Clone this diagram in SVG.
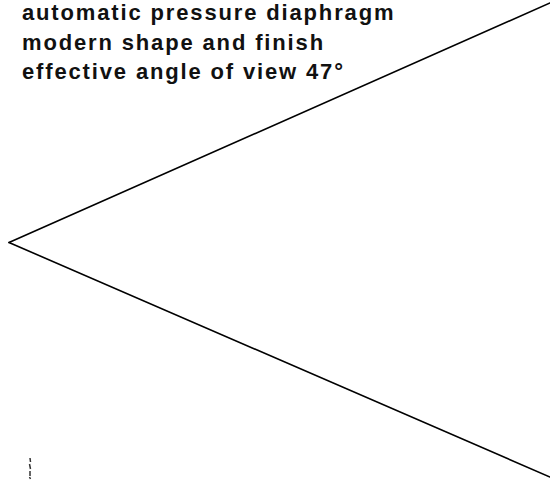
<svg xmlns="http://www.w3.org/2000/svg" width="550" height="480" viewBox="0 0 550 480">
  <style>
    .lbl { font-family: "Liberation Sans", Arial, sans-serif; font-size: 22px; font-weight: bold; fill: #111; letter-spacing: 1.85px; }
    .edge { stroke: #000; stroke-width: 1.6; fill: none; stroke-linecap: round; }
  </style>
  <rect width="550" height="480" fill="#fff"/>
  <g id="caption">
    <text class="lbl" x="22" y="20">automatic pressure diaphragm</text>
    <text class="lbl" x="22" y="50">modern shape and finish</text>
    <text class="lbl" x="22" y="79">effective angle of view 47°</text>
  </g>
  <g id="connectors">
    <line class="edge" x1="9" y1="242.5" x2="550" y2="3"/>
    <line class="edge" x1="9" y1="242.5" x2="550" y2="477"/>
  </g>
  <g id="mark">
    <path d="M30 458 L30.5 462 M29.5 464 L30.5 469 M30 471 L30 476 M29.5 477 L30.5 479" stroke="#333" stroke-width="1.5" fill="none"/>
  </g>
</svg>
